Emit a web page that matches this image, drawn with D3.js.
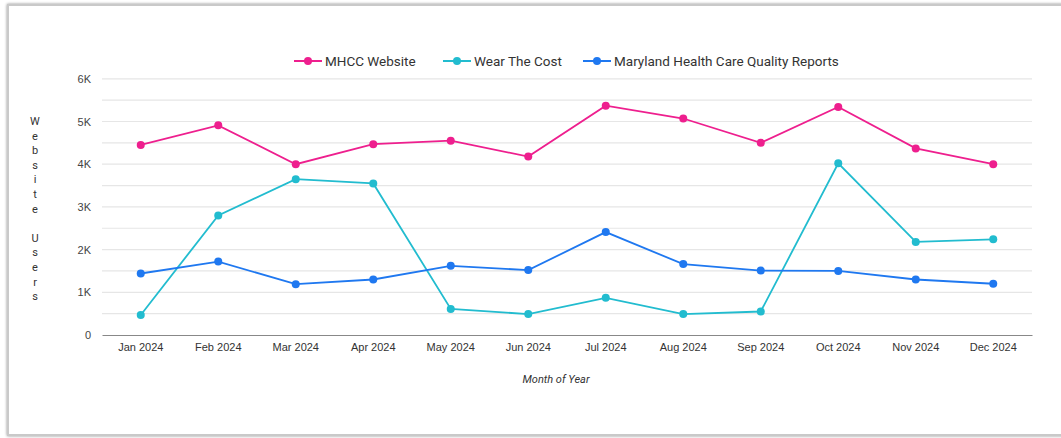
<!DOCTYPE html>
<html>
<head>
<meta charset="utf-8">
<script src="https://cdn.jsdelivr.net/npm/d3@7"></script>
<style>
  html, body { margin: 0; padding: 0; background: #fff; }
  svg { display: block; font-family: Roboto, "Open Sans", sans-serif; }
</style>
</head>
<body>
<div id="chart"></div>
<script>
// chart values
const months = ['Jan 2024', 'Feb 2024', 'Mar 2024', 'Apr 2024', 'May 2024', 'Jun 2024',
  'Jul 2024', 'Aug 2024', 'Sep 2024', 'Oct 2024', 'Nov 2024', 'Dec 2024'];
const mhccWebsite = [4450, 4910, 4000, 4470, 4550, 4180, 5370, 5070, 4500, 5340, 4370, 4000];
const wearTheCost = [470, 2800, 3650, 3550, 610, 490, 870, 490, 550, 4020, 2180, 2240];
const qualityReports = [1440, 1720, 1190, 1300, 1620, 1520, 2410, 1660, 1510, 1500, 1300, 1200];
const seriesNames = ['MHCC Website', 'Wear The Cost', 'Maryland Health Care Quality Reports'];
const yTicks = [0, 1000, 2000, 3000, 4000, 5000, 6000];
const yTickLabels = ['0', '1K', '2K', '3K', '4K', '5K', '6K'];

const series = [
  { name: seriesNames[0], values: mhccWebsite, color: '#ee1f8e' },
  { name: seriesNames[1], values: wearTheCost, color: '#22bccf' },
  { name: seriesNames[2], values: qualityReports, color: '#1f78f0' }
];

const W = 1061, H = 438;
const svg = d3.select('#chart').append('svg').attr('width', W).attr('height', H);

// card frame with soft shadow
const defs = svg.append('defs');
const f = defs.append('filter').attr('id', 'shadow').attr('x', '-5%').attr('y', '-5%')
  .attr('width', '110%').attr('height', '110%');
f.append('feGaussianBlur').attr('in', 'SourceAlpha').attr('stdDeviation', 1.5);
f.append('feOffset').attr('dx', 0).attr('dy', 0);
f.append('feComponentTransfer').append('feFuncA').attr('type', 'linear').attr('slope', 0.45);
const fm = f.append('feMerge');
fm.append('feMergeNode');
fm.append('feMergeNode').attr('in', 'SourceGraphic');

svg.append('rect')
  .attr('x', 8).attr('y', 5).attr('width', W + 20).attr('height', 430)
  .attr('fill', '#fff').attr('stroke', '#c9c9c9').attr('stroke-width', 2)
  .attr('filter', 'url(#shadow)');

const x = d3.scaleBand().domain(months).range([102, 1032]);
const y = d3.scaleLinear().domain([0, 6000]).range([335, 78.8]);

// gridlines every 500
const grid = d3.range(500, 6001, 500);
svg.append('g').selectAll('line').data(grid).join('line')
  .attr('x1', 102).attr('x2', 1032)
  .attr('y1', d => y(d)).attr('y2', d => y(d))
  .attr('stroke', '#e6e6e6').attr('stroke-width', 1.2);

// y axis labels
const yAxis = d3.axisLeft(y).tickValues(yTicks)
  .tickFormat((d, i) => yTickLabels[i]).tickSize(0).tickPadding(0);
svg.append('g').attr('transform', 'translate(91,0)').call(yAxis)
  .call(g => g.select('.domain').remove())
  .call(g => g.selectAll('text').attr('fill', '#444').attr('font-size', 11));

// x axis
const xAxis = d3.axisBottom(x).tickSize(0).tickPadding(8);
svg.append('g').attr('transform', 'translate(0,335)').call(xAxis)
  .call(g => g.select('.domain').attr('stroke', '#888').attr('stroke-width', 1.2))
  .call(g => g.selectAll('text').attr('fill', '#333').attr('font-size', 11));

// axis titles
svg.append('text').attr('x', 556).attr('y', 383).attr('text-anchor', 'middle')
  .attr('font-size', 11).attr('font-style', 'italic').attr('fill', '#333')
  .text('Month of Year');

const yTitle = svg.append('text').attr('font-size', 11).attr('fill', '#333')
  .attr('text-anchor', 'middle');
yTitle.selectAll('tspan').data('Website Users'.split('')).join('tspan')
  .attr('x', 35).attr('y', (d, i) => 125 + i * 14.6)
  .text(d => d === ' ' ? '\u00a0' : d);

// lines and points
const line = d3.line()
  .x((d, i) => x(months[i]) + x.bandwidth() / 2)
  .y(d => y(d));

const sg = svg.append('g').selectAll('g').data(series).join('g');
sg.append('path')
  .attr('d', d => line(d.values))
  .attr('fill', 'none').attr('stroke', d => d.color).attr('stroke-width', 1.8);
sg.each(function (s) {
  d3.select(this).selectAll('circle').data(s.values).join('circle')
    .attr('cx', (d, i) => x(months[i]) + x.bandwidth() / 2)
    .attr('cy', d => y(d))
    .attr('r', 4)
    .attr('fill', s.color);
});

// legend
const legendX = [294, 443, 583];
const lg = svg.append('g').selectAll('g').data(series).join('g')
  .attr('transform', (d, i) => `translate(${legendX[i]},61)`);
lg.append('line').attr('x1', 0).attr('x2', 28).attr('y1', 0).attr('y2', 0)
  .attr('stroke', d => d.color).attr('stroke-width', 2);
lg.append('circle').attr('cx', 14).attr('cy', 0).attr('r', 4).attr('fill', d => d.color);
lg.append('text').attr('x', 31).attr('y', 4.5).attr('font-size', 13.5).attr('fill', '#333')
  .text(d => d.name);
</script>
</body>
</html>
